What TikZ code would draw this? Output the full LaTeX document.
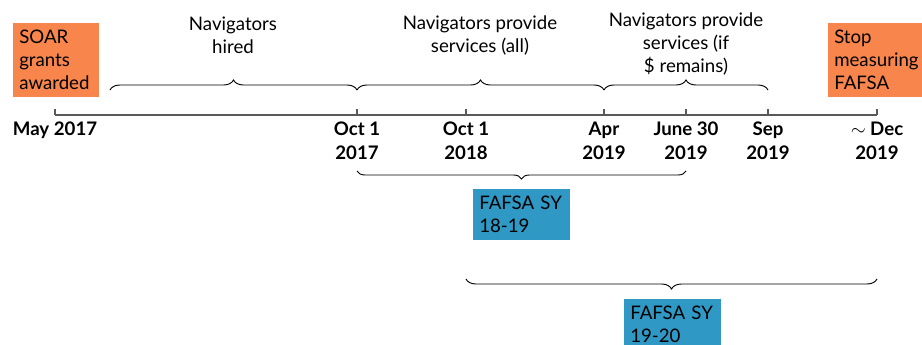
\documentclass[tikz,border=0pt]{standalone}
\usepackage{fontspec}
\setmainfont{Lato}
\usetikzlibrary{positioning,calc,decorations.pathreplacing}
\definecolor{soarorange}{HTML}{F8854B}
\definecolor{fafsablue}{HTML}{2F98C4}

\begin{document}
\begin{tikzpicture}[x=0.75pt,y=-0.75pt,
  every node/.style={font=\fontsize{14}{17.25}\selectfont},
  datelbl/.style={font=\fontsize{14}{18}\selectfont\bfseries,align=center,inner sep=0pt},
  note/.style={align=center,inner sep=0pt},
  tag/.style={align=left,anchor=north west,inner xsep=4.5pt,inner ysep=2pt},
  axis/.style={black!65,line width=1.1pt},
  brc/.style={decorate,decoration={brace,amplitude=#1},black,line width=0.7pt}]
\useasboundingbox (0,0) rectangle (922,345);

% tick positions on the time line
\coordinate (may) at (55,115);
\coordinate (oct17) at (357,115);
\coordinate (oct18) at (466,115);
\coordinate (apr19) at (604,115);
\coordinate (jun19) at (686,115);
\coordinate (sep19) at (768,115);
\coordinate (dec19) at (877,115);
% brace levels
\coordinate (upper) at (0,90);
\coordinate (hirestart) at (110,90);
\coordinate (mid) at (0,171);
\coordinate (low) at (0,279);

\draw[axis] (may) -- (dec19);
\foreach \t in {may,oct17,oct18,apr19,jun19,sep19,dec19}
  \draw[axis] (\t) -- ++(0,-6);

\node[datelbl,below=5pt of may] (lmay) {May 2017};
\node[datelbl,below=5pt of oct17] (loct17) {Oct 1\\2017};
\node[datelbl,below=5pt of oct18] (loct18) {Oct 1\\2018};
\node[datelbl,below=5pt of apr19] (lapr19) {Apr\\2019};
\node[datelbl,below=5pt of jun19] (ljun19) {June 30\\2019};
\node[datelbl,below=5pt of sep19] (lsep19) {Sep\\2019};
\node[datelbl,below=5pt of dec19] (ldec19) {$\sim$ Dec\\2019};

% navigator phases
\draw[brc=7.5pt] (hirestart) -- (oct17 |- upper);
\draw[brc=7.5pt] (oct17 |- upper) -- (apr19 |- upper);
\draw[brc=7.5pt] (apr19 |- upper) -- (sep19 |- upper);
\node[note] (hired) at (233,35) {Navigators\\hired};
\node[note] (all) at (480,35) {Navigators provide\\services (all)};
\node[note] (ifleft) at (686,44) {Navigators provide\\services (if\\\$ remains)};

% FAFSA school years
\draw[brc=6pt] (jun19 |- mid) -- (oct17 |- mid);
\draw[brc=7.5pt] (dec19 |- low) -- (oct18 |- low);
\node[tag,fill=fafsablue,text width=63.75pt,minimum height=38.25pt] (sy1819) at (473,189) {FAFSA SY\\18-19};
\node[tag,fill=fafsablue,text width=63.75pt,minimum height=38.25pt] (sy1920) at (624,299) {FAFSA SY\\19-20};

\node[tag,fill=soarorange,text width=55.5pt,minimum height=55.5pt] (soar) at (13,23) {SOAR\\grants\\awarded};
\node[tag,fill=soarorange,text width=61.5pt,minimum height=55.5pt] (stop) at (828,23) {Stop\\measuring\\FAFSA};
\end{tikzpicture}
\end{document}
